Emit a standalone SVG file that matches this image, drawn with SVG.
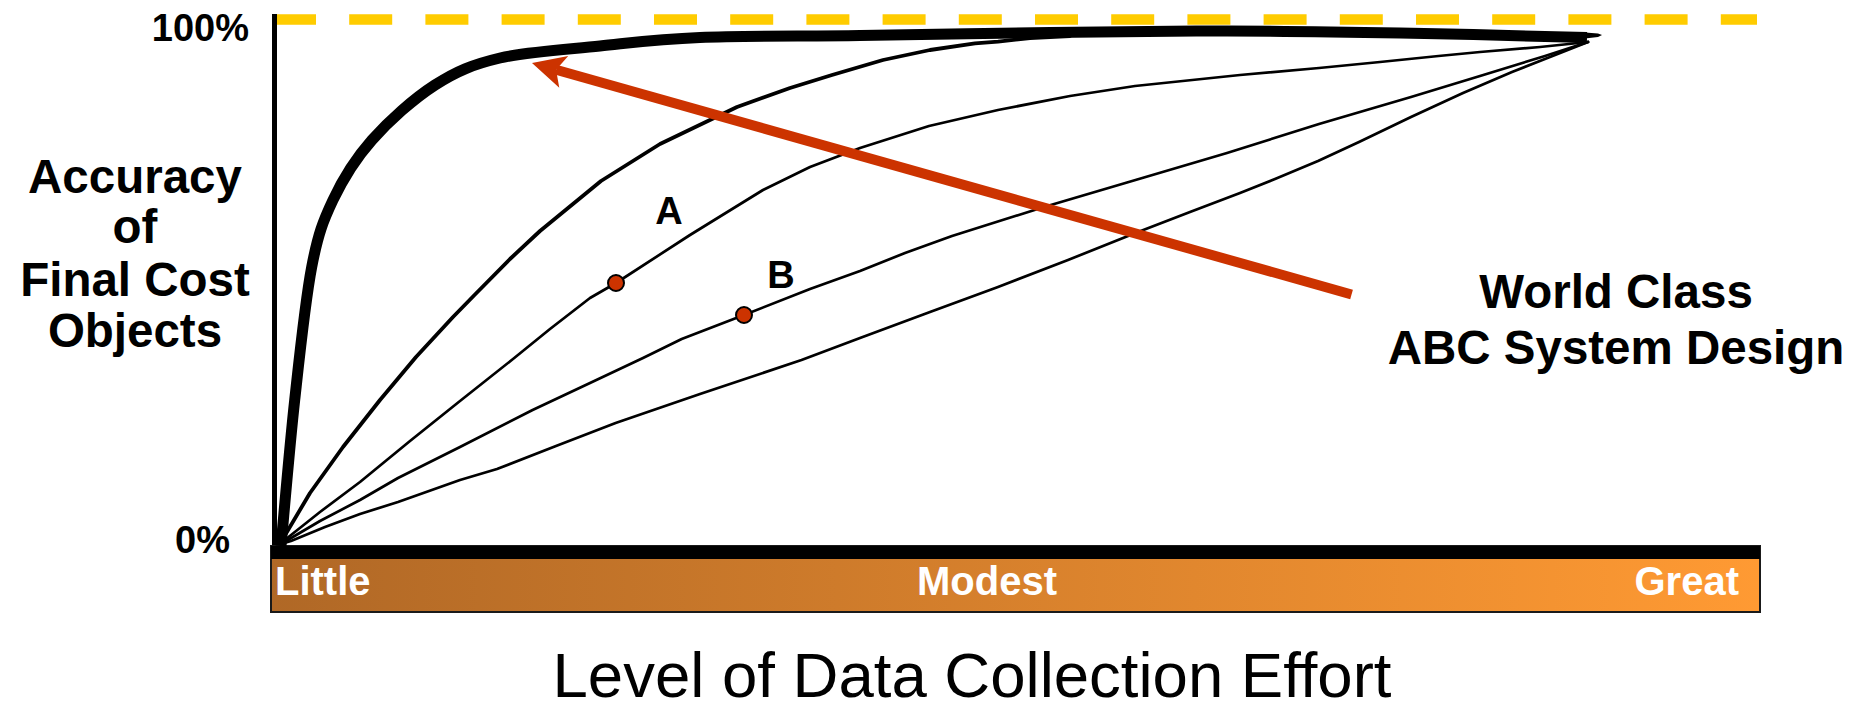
<svg xmlns="http://www.w3.org/2000/svg" width="1864" height="704" viewBox="0 0 1864 704">
  <defs>
    <linearGradient id="barGrad" x1="0" y1="0" x2="1" y2="0">
      <stop offset="0" stop-color="#B06826"/>
      <stop offset="1" stop-color="#FF9A33"/>
    </linearGradient>
  </defs>
  <style>
    text { font-family: "Liberation Sans", Arial, sans-serif; }
    .b { font-weight: bold; fill: #000; }
    .lab { font-size: 47.5px; text-anchor: middle; }
    .pct { font-size: 38px; text-anchor: end; }
    .pt { font-size: 38px; text-anchor: middle; }
    .bar { font-size: 40px; font-weight: bold; fill: #fff; }
    .thin { fill: none; stroke: #000; stroke-width: 2.7; stroke-linejoin: round; stroke-linecap: round; }
    .med { fill: none; stroke: #000; stroke-width: 3.8; stroke-linejoin: round; stroke-linecap: round; }
    .thick { fill: none; stroke: #000; stroke-width: 11; stroke-linejoin: round; }
    .dot { fill: #CC3300; stroke: #000; stroke-width: 2; }
  </style>
  <rect width="1864" height="704" fill="#fff"/>

  <g id="target-line">
    <line x1="273" y1="19.5" x2="1757" y2="19.5" stroke="#FFCC00" stroke-width="10.5" stroke-dasharray="43 33.2"/>
  </g>

  <g id="axes">
    <line x1="274.5" y1="14" x2="274.5" y2="548" stroke="#000" stroke-width="5"/>
    <rect x="271" y="546" width="1489" height="66" fill="url(#barGrad)" stroke="#1a1a1a" stroke-width="2"/>
    <rect x="271" y="546" width="1489" height="13" fill="#000"/>
  </g>

  <g id="curves">
    <polyline class="thin" points="281,544 291,541 325,527 360,514 398,502 460,480 497,469 556,446 615.6,423 700,394 801.5,360 860,338 930,312 998,287 1068,260 1135.5,233 1190,212 1240,193 1275,179 1318,161 1359,142 1411,117 1463,93 1512,72 1550,57 1588,42"/>
    <polyline class="thin" points="281,544 320,521 360,500 398,478 460,447 532.6,410 590,383 643,358 681.7,339 744,315 810,289 860,271 905,253 952,236 1044,207 1135.5,180 1227,153 1319,124 1411,97 1480,76 1545,56 1588,42"/>
    <polyline class="thin" points="281,543 320,512 360,482 410,441 460,401 513,359 550,329 590,298 616,283 690,235 763,190 810,167 860,148 929,126 998,110 1070,96 1135,86 1240,75 1319,68 1380,62 1438.5,56 1480,52 1540,47 1588,42"/>
    <polyline class="med" points="281,542 310,493 343,447 380,400 416,357 453,317 474.5,295 510,259 540,231 601,181 660,144 737,107 790,88 832,75 883,60 930,50 975,43.3 998,41.7 1030,38 1070,36"/>
    <path class="thick" d="M281,546 C283.3,521.7 289.6,446.5 294.7,400 C299.8,353.5 305.3,300.3 311.7,267 C318.1,233.7 323,221.2 333,200 C343.05,178.8 355,159.2 372,140 C389,120.8 413.7,98.7 435,85 C456.3,71.3 472.5,64.5 500,58 C527.5,51.5 566.7,49.4 600,46 C633.3,42.6 656.7,39.25 700,37.5 C743.3,35.75 801.7,36.3 860,35.5 C918.3,34.7 988.8,33.25 1050,32.5 C1111.2,31.75 1168.7,31.1 1227,31 C1285.3,31.1 1340,31.9 1400,33 C1460,34.1 1555.8,36.75 1587,37.5"/>
    <polygon points="1585,32.5 1598,33.5 1602,35 1598,37 1585,38.5" fill="#000"/>
  </g>

  <g id="point-a">
    <circle class="dot" cx="616" cy="283" r="8"/>
    <text class="b pt" x="669" y="223.5">A</text>
  </g>
  <g id="point-b">
    <circle class="dot" cx="744" cy="315" r="8"/>
    <text class="b pt" x="781" y="287.7">B</text>
  </g>

  <g id="arrow" transform="translate(532,63) rotate(15.77)">
    <line x1="25" y1="0" x2="851.6" y2="0" stroke="#CC3300" stroke-width="10"/>
    <polygon points="0,0 33,-16.5 25,0 33,16.5" fill="#CC3300"/>
  </g>

  <g id="y-labels">
    <text class="b pct" x="249" y="41">100%</text>
    <text class="b pct" x="230" y="553">0%</text>
    <text class="b lab" x="135" y="192.5">Accuracy</text>
    <text class="b lab" x="135" y="243">of</text>
    <text class="b lab" x="135" y="296">Final Cost</text>
    <text class="b lab" x="135" y="347">Objects</text>
  </g>

  <g id="world-class-label">
    <text class="b lab" x="1616" y="307.5">World Class</text>
    <text class="b lab" x="1616" y="364">ABC System Design</text>
  </g>

  <g id="x-labels">
    <text class="bar" x="275" y="595">Little</text>
    <text class="bar" x="987" y="595" text-anchor="middle">Modest</text>
    <text class="bar" x="1739" y="595" text-anchor="end">Great</text>
    <text x="972" y="697" font-size="63.5" text-anchor="middle" fill="#000">Level of Data Collection Effort</text>
  </g>
</svg>
